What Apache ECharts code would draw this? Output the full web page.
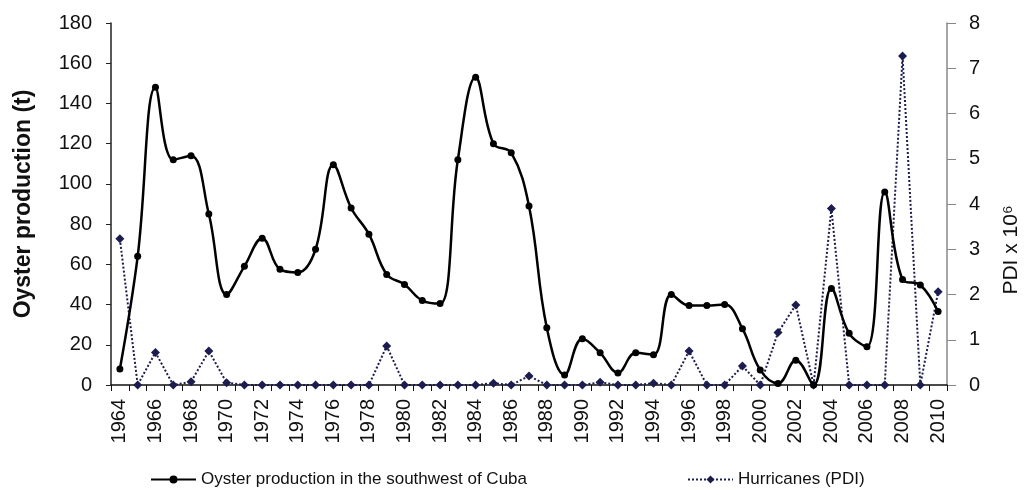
<!DOCTYPE html>
<html>
<head>
<meta charset="utf-8">
<script src="https://cdn.jsdelivr.net/npm/echarts@6/dist/echarts.min.js"></script>
<style>
  html, body { margin: 0; padding: 0; background: #fff; }
  #chart { width: 1024px; height: 495px; }
</style>
</head>
<body>
<div id="chart"></div>
<script>
// years 1964-2010
var years = [];
for (var y = 1964; y <= 2010; y++) years.push(String(y));

// oyster production (t)
var oyster = [8, 64, 148, 112, 114, 85, 45, 59, 73, 57.5,
  56, 67.5, 109.5, 88, 75, 55, 50, 42, 40.5, 112,
  153, 120, 115.5, 89, 28.5, 5, 23, 16, 6, 16,
  15, 45, 39.5, 39.5, 40, 28, 7.5, 0.8, 12.3, 0,
  48, 25.7, 19, 96, 52.5, 49.7, 36.5];

// hurricanes PDI x 10^6
var pdi = [3.23, 0, 0.72, 0, 0.07, 0.75, 0.05, 0, 0, 0,
  0, 0, 0, 0, 0, 0.86, 0, 0, 0, 0,
  0, 0.04, 0, 0.2, 0, 0, 0, 0.06, 0, 0,
  0.04, 0, 0.75, 0, 0, 0.42, 0, 1.16, 1.77, 0,
  3.9, 0, 0, 0, 7.27, 0, 2.06];

var font = 'Liberation Sans, Arial, sans-serif';

var myChart = echarts.init(document.getElementById('chart'));
var option = {
  animation: false,
  grid: { left: 111, right: 77, top: 23, bottom: 110, outerBoundsMode: 'none' },
  legend: {
    bottom: 2,
    left: 145,
    itemGap: 160,
    itemWidth: 45,
    itemHeight: 10,
    textStyle: { fontFamily: font, fontSize: 17, color: '#111' },
    data: ['Oyster production in the southwest of Cuba', 'Hurricanes (PDI)']
  },
  xAxis: {
    type: 'category',
    data: years,
    boundaryGap: true,
    axisLine: { lineStyle: { color: '#111', width: 1.5 } },
    axisTick: { show: true, interval: 0, length: 6, lineStyle: { color: '#111' } },
    axisLabel: {
      interval: 1,
      rotate: 90,
      margin: 14,
      fontFamily: font,
      fontSize: 20,
      color: '#111'
    }
  },
  yAxis: [{
    type: 'value',
    min: 0,
    max: 180,
    interval: 20,
    name: 'Oyster production (t)',
    nameLocation: 'middle',
    nameGap: 76,
    nameTextStyle: { fontFamily: font, fontSize: 23, fontWeight: 'bold', color: '#111' },
    splitLine: { show: false },
    axisLine: { show: true, lineStyle: { color: '#222', width: 1.5 } },
    axisTick: { show: true, length: 5, lineStyle: { color: '#222' } },
    axisLabel: { fontFamily: font, fontSize: 20, color: '#111', margin: 19 }
  }, {
    type: 'value',
    min: 0,
    max: 8,
    interval: 1,
    position: 'right',
    name: 'PDI x 10⁶',
    nameLocation: 'middle',
    nameGap: 54,
    nameTextStyle: { fontFamily: font, fontSize: 21, color: '#111', padding: [0, 92, 0, 0] },
    splitLine: { show: false },
    axisLine: { show: true, lineStyle: { color: '#888', width: 1.5 } },
    axisTick: { show: true, length: 9, lineStyle: { color: '#888' } },
    axisLabel: { fontFamily: font, fontSize: 20, color: '#111', margin: 22 }
  }],
  series: [{
    name: 'Oyster production in the southwest of Cuba',
    type: 'line',
    yAxisIndex: 0,
    data: oyster,
    smooth: 0.4,
    symbol: 'circle',
    symbolSize: 7,
    lineStyle: { color: '#000', width: 2.5 },
    itemStyle: { color: '#000' },
    z: 3
  }, {
    name: 'Hurricanes (PDI)',
    type: 'line',
    yAxisIndex: 1,
    data: pdi,
    symbol: 'diamond',
    symbolSize: 9,
    lineStyle: { color: '#1c1c4e', width: 2, type: 'dotted' },
    itemStyle: { color: '#1c1c4e' },
    z: 2
  }]
};
myChart.setOption(option);
</script>
</body>
</html>
